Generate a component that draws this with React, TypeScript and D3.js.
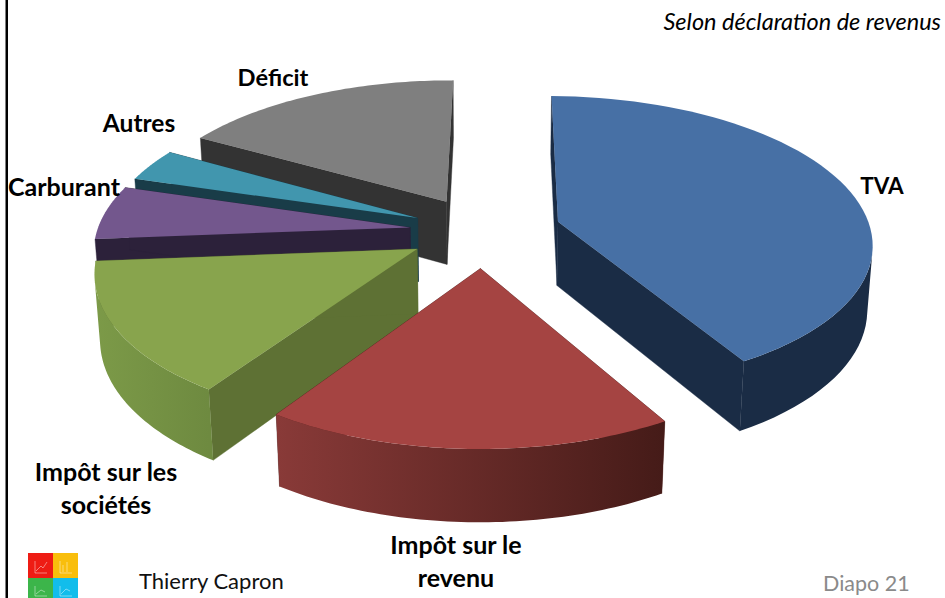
import React from "react";
import * as d3 from "d3";

const categories = ["TVA", "Impôt sur le revenu", "Impôt sur les sociétés", "Carburant", "Autres", "Déficit"];
const shares = [41.5, 17.75, 14.35, 5.9, 3.6, 16.9];
const explosion = [0.25, 0.25, 0.24, 0.235, 0.23, 0.24];
const topColors = ["#4770A5", "#A54442", "#88A44D", "#73578D", "#4196AE", "#7F7F7F"];
const cutColors = ["#1A2C45", "#4A1C1A", "#5E7134", "#2C213A", "#193C48", "#333333"];
const wallStart = ["#1A2C45", "#893A38", "#7C9A48", "#2C213A", "#193C48", "#333333"];
const wallEnd = ["#1A2C45", "#451B18", "#6E8A40", "#2C213A", "#193C48", "#333333"];
const drawOrder = [5, 4, 3, 2, 1, 0];

const WIDTH = 945, HEIGHT = 598;
const CX = 483, CY = 231;
const A = 313, B = 145, K = 0.135, H = 65, DH = 0.014;
const START = (0.5 * Math.PI) / 180;

type P = [number, number];
const project = (u: number, w: number, h: number): P => {
  const depth = 1 - K * w + DH * h;
  return [CX + (A * u) / depth, CY + (B * w + H * h) / depth];
};

const arcs = d3.pie<number>().sort(null).value((d) => d).startAngle(START).endAngle(START + 2 * Math.PI)(shares);

const line = d3.line<P>();
const apexOf = (a: d3.PieArcDatum<number>, e: number): P => {
  const mid = (a.startAngle + a.endAngle) / 2;
  return [e * Math.sin(mid), -e * Math.cos(mid)];
};
const rim = (a: d3.PieArcDatum<number>, e: number, n = 60): P[] => {
  const [ou, ow] = apexOf(a, e);
  return d3.range(n + 1).map((i) => {
    const t = a.startAngle + ((a.endAngle - a.startAngle) * i) / n;
    return [ou + Math.sin(t), ow - Math.cos(t)] as P;
  });
};

function Slice({ i }: { i: number }) {
  const a = arcs[i];
  const r = rim(a, explosion[i]);
  const apex = apexOf(a, explosion[i]);
  const top = r.map((p) => project(p[0], p[1], 0));
  const bot = r.map((p) => project(p[0], p[1], 1));
  const aT = project(apex[0], apex[1], 0);
  const aB = project(apex[0], apex[1], 1);
  const topPath = line([aT, ...top]) + "Z";
  const cut1 = line([aT, top[0], bot[0], aB]) + "Z";
  const cut2 = line([aT, top[top.length - 1], bot[bot.length - 1], aB]) + "Z";
  const wall = d3.range(top.length - 1)
    .map((k) => [top[k], top[k + 1], bot[k + 1], bot[k]] as P[])
    .filter((q) => d3.polygonArea(q) > 0)
    .map((q) => line(q) + "Z")
    .join("");
  const xs = top.map((p) => p[0]);
  return (
    <g>
      <defs>
        <linearGradient id={`wall${i}`} gradientUnits="userSpaceOnUse" x1={d3.min(xs)} x2={d3.max(xs)} y1={0} y2={0}>
          <stop offset="0" stopColor={wallStart[i]} />
          <stop offset="1" stopColor={wallEnd[i]} />
        </linearGradient>
      </defs>
      <path d={cut1} fill={cutColors[i]} stroke={cutColors[i]} strokeWidth={0.4} />
      <path d={cut2} fill={cutColors[i]} stroke={cutColors[i]} strokeWidth={0.4} />
      <path d={wall} fill={`url(#wall${i})`} fillRule="nonzero" />
      <path d={topPath} fill={topColors[i]} />
    </g>
  );
}

const labelFont = "Lato, 'Open Sans', sans-serif";
const labelLines: { lines: string[]; x: number; y: number; size: number }[] = [
  { lines: ["TVA"], x: 882, y: 194, size: 22.5 },
  { lines: ["Impôt sur le", "revenu"], x: 456, y: 554, size: 25 },
  { lines: ["Impôt sur les", "sociétés"], x: 106, y: 481, size: 25 },
  { lines: ["Carburant"], x: 64, y: 196, size: 25 },
  { lines: ["Autres"], x: 139, y: 132, size: 24.5 },
  { lines: ["Déficit"], x: 273, y: 86, size: 23.7 },
];

export default function App() {
  return (
    <svg width={WIDTH} height={HEIGHT} style={{ position: "absolute", left: 0, top: 0, background: "#fff" }}>
      <rect x={5.5} y={0} width={2.5} height={HEIGHT} fill="#000" />
      {drawOrder.map((i) => <Slice key={categories[i]} i={i} />)}
      {labelLines.map((l) => (
        <text key={l.lines[0]} textAnchor="middle" fontFamily={labelFont} fontWeight={700} fontSize={l.size} fill="#000">
          {l.lines.map((t, j) => <tspan key={t} x={l.x} y={l.y + j * 33}>{t}</tspan>)}
        </text>
      ))}
      <text x={941} y={30} textAnchor="end" fontFamily={labelFont} fontStyle="italic" fontSize={23.5} fill="#000">Selon déclaration de revenus</text>
      <text x={139} y={589} fontFamily={labelFont} fontSize={22} fill="#111">Thierry Capron</text>
      <text x={823} y={591} fontFamily={labelFont} fontSize={21.5} fill="#8a8a8a">Diapo 21</text>
      <rect x={28} y={553} width={25} height={25} fill="#EE1C14" />
      <rect x={53} y={553} width={25} height={25} fill="#F9BE0C" />
      <rect x={28} y={578} width={25} height={20} fill="#3CB54A" />
      <rect x={53} y={578} width={25} height={20} fill="#12BDEB" />
      <g fill="none" stroke="#fff" strokeOpacity={0.45} strokeWidth={1}>
        <path d="M35 561V573H47M36 571L41 566L43 568L47 562" />
        <path d="M60 561V573H72M63 572V565M67 572V562" />
        <path d="M35 586V596H47M36 594L41 590L45 592" />
        <path d="M60 586V596H72M61 594L66 589L70 591" />
      </g>
    </svg>
  );
}
